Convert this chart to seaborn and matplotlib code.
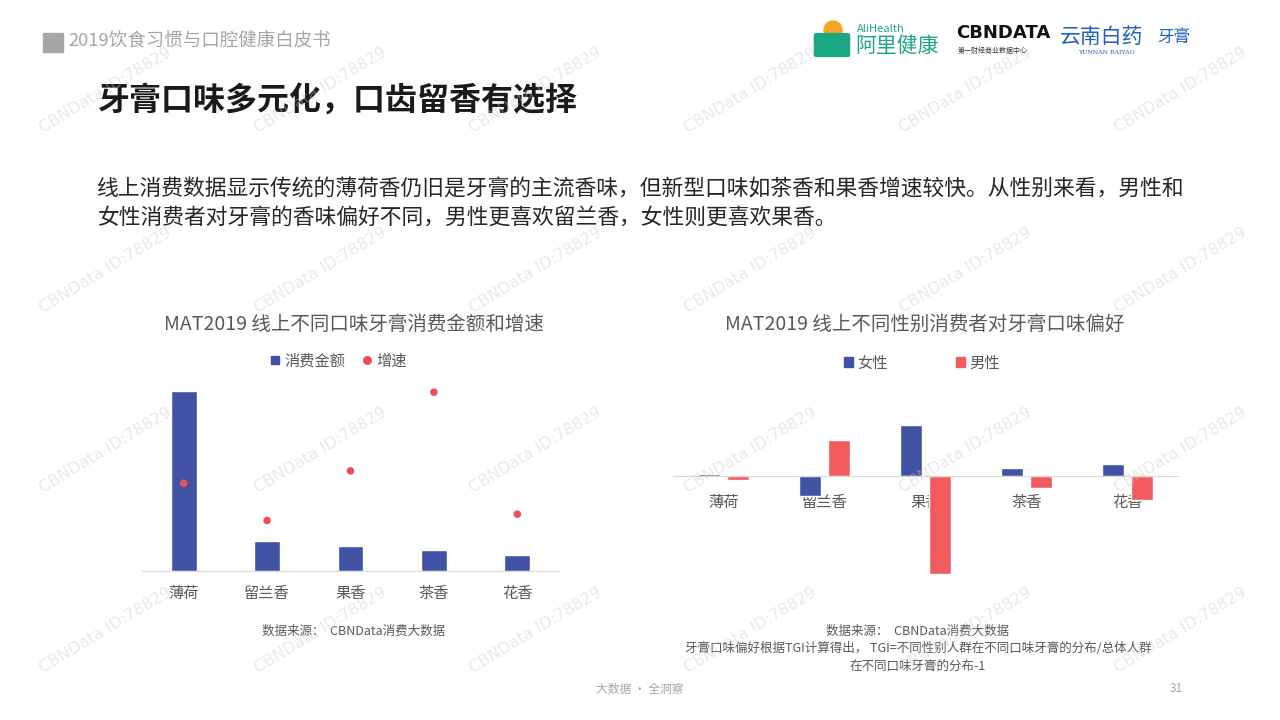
import seaborn as sns
import matplotlib.pyplot as plt
import matplotlib.patches as mpatches
from matplotlib.lines import Line2D
import pandas as pd

sns.set_style("white")
plt.rcParams['font.family'] = ['Noto Sans CJK SC', 'DejaVu Sans']
plt.rcParams['axes.unicode_minus'] = False

# data
flavors = ["薄荷", "留兰香", "果香", "茶香", "花香"]
sales_index = [100, 16.5, 14.1, 11.9, 8.7]      # 消费金额 (薄荷 = 100)
growth_pct = [22.1, 12.7, 25.2, 45.0, 14.3]     # 增速 (%)
genders = ["女性", "男性"]
tgi_female = [0.01, -0.10, 0.255, 0.04, 0.06]
tgi_male = [-0.02, 0.18, -0.49, -0.06, -0.12]

BLUE = "#4151A3"
RED = "#F25C5E"
DOT = "#EE5057"
GRAY = "#595959"
LIGHT = "#A6A6A6"

fig = plt.figure(figsize=(12.8, 7.2), dpi=100)
W, H = 1280, 720


def fx(px):
    return px / W


def fy(py):
    return 1 - py / H


# ---- watermark
for wy in [90, 270, 450, 630]:
    for wx in [105, 320, 535, 750, 965, 1180]:
        fig.text(fx(wx), fy(wy), "CBNData ID:78829", rotation=31, ha="center", va="center",
                 fontsize=11.5, color="#C8C8C8", alpha=0.4, family="DejaVu Sans", zorder=20)

# ---- slide header
fig.patches.append(mpatches.Rectangle((fx(43), fy(52)), fx(20), 19 / H, transform=fig.transFigure,
                                      color=LIGHT, zorder=1))
fig.text(fx(68), fy(42), "2019饮食习惯与口腔健康白皮书", fontsize=13.3, color=LIGHT, va="center")
fig.text(fx(97), fy(101), "牙膏口味多元化，口齿留香有选择", fontsize=23, fontweight="bold",
         color="#1A1A1A", va="center")
fig.text(fx(97), fy(189), "线上消费数据显示传统的薄荷香仍旧是牙膏的主流香味，但新型口味如茶香和果香增速较快。从性别来看，男性和",
         fontsize=15.7, color="#262626", va="center")
fig.text(fx(97), fy(218), "女性消费者对牙膏的香味偏好不同，男性更喜欢留兰香，女性则更喜欢果香。",
         fontsize=15.7, color="#262626", va="center")

# logos (text approximations)
fig.patches.append(mpatches.FancyBboxPatch((fx(817), fy(55)), fx(30), 20 / H, boxstyle="round,pad=0.002",
                                           transform=fig.transFigure, color="#1BA784", zorder=2))
fig.patches.append(mpatches.Ellipse((fx(833), fy(30)), fx(18), 18 / H, transform=fig.transFigure,
                                    color="#F5A623", zorder=1))
fig.text(fx(857), fy(29), "AliHealth", fontsize=8, color="#1BA784", va="center")
fig.text(fx(855), fy(46), "阿里健康", fontsize=15, color="#1BA784", va="center")
fig.text(fx(956), fy(33), "CBNDATA", fontsize=13, fontweight="bold", color="#111111", va="center",
         family="DejaVu Sans")
fig.text(fx(958), fy(51), "第一财经商业数据中心", fontsize=5, color="#333333", va="center")
fig.text(fx(1060), fy(37), "云南白药", fontsize=15, color="#1F5FBF", va="center", style="italic")
fig.text(fx(1157), fy(37), "牙膏", fontsize=12, color="#1F5FBF", va="center", style="italic")
fig.text(fx(1078), fy(52), "YUNNAN BAIYAO", fontsize=4.5, color="#1F5FBF", va="center", family="DejaVu Serif")

# ---- left chart: sales + growth
ax1 = fig.add_axes([fx(142), fy(571), fx(417), 186 / H])
sns.barplot(x=flavors, y=sales_index, color=BLUE, width=0.31, saturation=1, ax=ax1, zorder=2)
ax1.set_ylim(0, 103.6)
ax2 = ax1.twinx()
sns.scatterplot(x=range(len(flavors)), y=growth_pct, color=DOT, s=30, edgecolor="none", ax=ax2, zorder=3)
ax2.set_ylim(0, 46.8)
ax1.set_xlim(-0.5, 4.5)
for a in (ax1, ax2):
    a.set_ylabel("")
    a.set_yticks([])
    for s in ["top", "left", "right"]:
        a.spines[s].set_visible(False)
    a.spines["bottom"].set_color("#D9D9D9")
ax1.set_xlabel("")
ax1.tick_params(axis="x", length=0, pad=10, labelsize=11, labelcolor=GRAY)

fig.text(fx(354), fy(324), "MAT2019 线上不同口味牙膏消费金额和增速", fontsize=14, color=GRAY,
         ha="center", va="center")
fig.legend(handles=[Line2D([], [], marker="s", ls="", color=BLUE, ms=6),
                    Line2D([], [], marker="o", ls="", color=DOT, ms=5.5)],
           labels=["消费金额", "增速"], loc="center", bbox_to_anchor=(fx(336), fy(361)), ncol=2,
           frameon=False, fontsize=11, handletextpad=0.0, handlelength=1.3, columnspacing=0.7,
           labelcolor=GRAY)
fig.text(fx(354), fy(631), "数据来源：  CBNData消费大数据", fontsize=9, color=GRAY, ha="center", va="center")

# ---- right chart: TGI by gender
tgi = pd.DataFrame({
    "flavor": flavors * 2,
    "gender": [genders[0]] * len(flavors) + [genders[1]] * len(flavors),
    "tgi": tgi_female + tgi_male,
})
ax3 = fig.add_axes([fx(673), fy(590), fx(505), 200 / H])
sns.barplot(data=tgi, x="flavor", y="tgi", hue="gender", palette=[BLUE, RED], saturation=1,
            width=0.574, gap=0.24, errorbar=None, legend=False, ax=ax3)
ax3.set_ylim(-0.57, 0.43)
ax3.set_xlim(-0.5, 4.5)
ax3.set_xlabel("")
ax3.set_ylabel("")
ax3.set_yticks([])
for s in ["top", "left", "right"]:
    ax3.spines[s].set_visible(False)
ax3.spines["bottom"].set_position(("data", 0))
ax3.spines["bottom"].set_color("#D9D9D9")
ax3.set_axisbelow(True)
ax3.tick_params(axis="x", length=0, pad=13, labelsize=11, labelcolor=GRAY)

fig.text(fx(925), fy(324), "MAT2019 线上不同性别消费者对牙膏口味偏好", fontsize=14, color=GRAY,
         ha="center", va="center")
fig.legend(handles=[mpatches.Patch(color=BLUE), mpatches.Patch(color=RED)], labels=genders,
           loc="center", bbox_to_anchor=(fx(922), fy(363)), ncol=2, frameon=False, fontsize=11,
           handlelength=0.55, handleheight=0.55, handletextpad=0.3, columnspacing=4.5, labelcolor=GRAY)
fig.text(fx(918), fy(631), "数据来源：  CBNData消费大数据", fontsize=9, color=GRAY, ha="center", va="center")
fig.text(fx(918), fy(648), "牙膏口味偏好根据TGI计算得出， TGI=不同性别人群在不同口味牙膏的分布/总体人群",
         fontsize=9, color=GRAY, ha="center", va="center")
fig.text(fx(918), fy(666), "在不同口味牙膏的分布-1", fontsize=9, color=GRAY, ha="center", va="center")

# ---- footer
fig.text(fx(640), fy(689), "大数据 · 全洞察", fontsize=8.5, color=LIGHT, ha="center", va="center")
fig.text(fx(1176), fy(688), "31", fontsize=8.5, color=LIGHT, ha="center", va="center")

fig.savefig("out.png", dpi=100)
plt.close(fig)
